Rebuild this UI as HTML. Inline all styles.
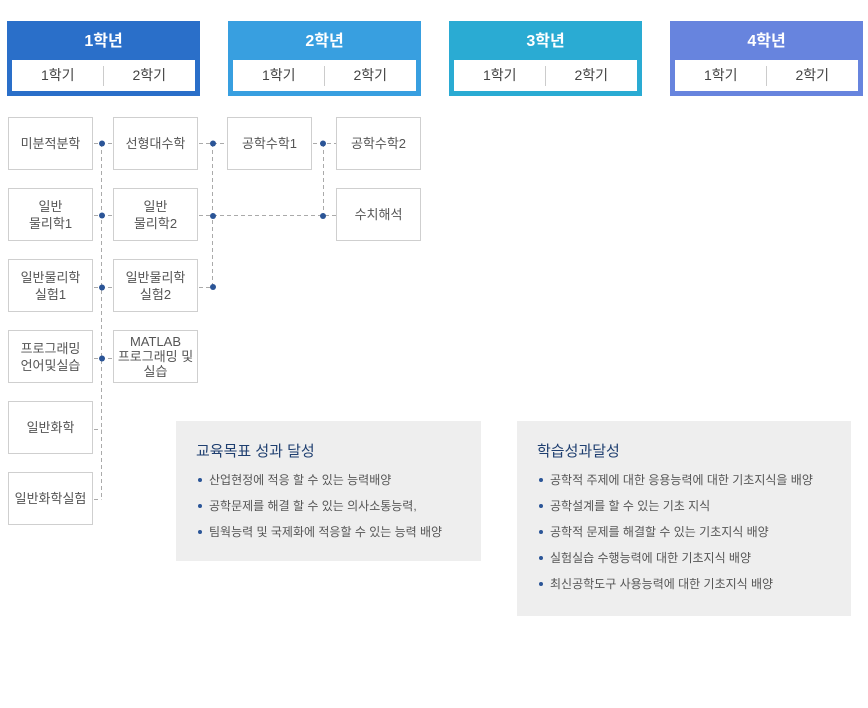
<!DOCTYPE html>
<html><head><meta charset="utf-8"><style>
body{margin:0;width:868px;height:708px;background:#fff;position:relative;overflow:hidden;font-family:"Liberation Sans","Noto Sans CJK KR",sans-serif}
.yr{position:absolute;top:21px;width:193px;height:75px;color:#fff}
.yr .t{position:absolute;top:0;left:0;width:100%;height:40px;line-height:42px;text-align:center;font-size:16px;font-weight:bold}
.yr .w{position:absolute;left:5px;top:39px;width:183px;height:31px;background:#fff;color:#444;font-size:14px}
.yr .w span{position:absolute;top:0;width:50%;line-height:31px;text-align:center}
.yr .w i{position:absolute;left:91px;top:6px;width:1px;height:20px;background:#ccc}
.c{position:absolute;width:83px;height:51px;border:1px solid #cfcfcf;display:flex;align-items:center;justify-content:center;text-align:center;font-size:13px;line-height:17px;color:#555;background:#fff}
.box{position:absolute;background:#eeeeee}
.box h3{margin:0;position:absolute;left:20px;top:19px;font-size:15px;font-weight:normal;color:#1f3f70}
.box ul{margin:0;padding:0;list-style:none;position:absolute;left:20px;top:50px}
.box li{font-size:12px;color:#555;height:26px;line-height:18px;padding-left:13px;position:relative}
.box li:before{content:"";position:absolute;left:2px;top:7px;width:4px;height:4px;border-radius:2px;background:#2b5597}
svg{position:absolute;left:0;top:0}
</style></head><body>
<div class="yr" style="left:7px;background:#2a6fc9"><div class="t">1학년</div><div class="w"><span style="left:0">1학기</span><i></i><span style="left:50%">2학기</span></div></div>
<div class="yr" style="left:228px;background:#389fe0"><div class="t">2학년</div><div class="w"><span style="left:0">1학기</span><i></i><span style="left:50%">2학기</span></div></div>
<div class="yr" style="left:449px;background:#2aabd3"><div class="t">3학년</div><div class="w"><span style="left:0">1학기</span><i></i><span style="left:50%">2학기</span></div></div>
<div class="yr" style="left:670px;background:#6784de"><div class="t">4학년</div><div class="w"><span style="left:0">1학기</span><i></i><span style="left:50%">2학기</span></div></div>

<svg width="868" height="708">
<g stroke="#aaa" stroke-width="1" stroke-dasharray="4,3" fill="none">
<line x1="94" y1="143.5" x2="113" y2="143.5"/>
<line x1="94" y1="215.5" x2="113" y2="215.5"/>
<line x1="94" y1="287.5" x2="113" y2="287.5"/>
<line x1="94" y1="358.5" x2="113" y2="358.5"/>
<line x1="94" y1="429.5" x2="101.5" y2="429.5"/>
<line x1="94" y1="499.5" x2="101.5" y2="499.5"/>
<line x1="101.5" y1="143" x2="101.5" y2="500"/>
<line x1="199" y1="143.5" x2="227" y2="143.5"/>
<line x1="199" y1="215.5" x2="336" y2="215.5"/>
<line x1="199" y1="287.5" x2="212.5" y2="287.5"/>
<line x1="212.5" y1="143" x2="212.5" y2="287"/>
<line x1="313" y1="143.5" x2="336" y2="143.5"/>
<line x1="323.5" y1="143" x2="323.5" y2="215"/>
</g>
<g fill="#2b5597">
<circle cx="102" cy="143.5" r="3"/><circle cx="102" cy="215.5" r="3"/><circle cx="102" cy="287.5" r="3"/><circle cx="102" cy="358.5" r="3"/>
<circle cx="213" cy="143.5" r="3"/><circle cx="213" cy="216" r="3"/><circle cx="213" cy="287" r="3"/>
<circle cx="323" cy="143.5" r="3"/><circle cx="323" cy="216" r="3"/>
</g>
</svg>

<div class="c" style="left:8px;top:117px">미분적분학</div>
<div class="c" style="left:8px;top:188px">일반<br>물리학1</div>
<div class="c" style="left:8px;top:259px">일반물리학<br>실험1</div>
<div class="c" style="left:8px;top:330px">프로그래밍<br>언어및실습</div>
<div class="c" style="left:8px;top:401px">일반화학</div>
<div class="c" style="left:8px;top:472px">일반화학실험</div>
<div class="c" style="left:113px;top:117px">선형대수학</div>
<div class="c" style="left:113px;top:188px">일반<br>물리학2</div>
<div class="c" style="left:113px;top:259px">일반물리학<br>실험2</div>
<div class="c" style="left:113px;top:330px;line-height:15px">MATLAB<br>프로그래밍 및<br>실습</div>
<div class="c" style="left:227px;top:117px">공학수학1</div>
<div class="c" style="left:336px;top:117px">공학수학2</div>
<div class="c" style="left:336px;top:188px">수치해석</div>

<div class="box" style="left:176px;top:421px;width:305px;height:140px">
<h3>교육목표 성과 달성</h3>
<ul><li>산업현정에 적응 할 수 있는 능력배양</li><li>공학문제를 해결 할 수 있는 의사소통능력,</li><li>팀웍능력 및 국제화에 적응할 수 있는 능력 배양</li></ul>
</div>
<div class="box" style="left:517px;top:421px;width:334px;height:195px">
<h3>학습성과달성</h3>
<ul><li>공학적 주제에 대한 응용능력에 대한 기초지식을 배양</li><li>공학설계를 할 수 있는 기초 지식</li><li>공학적 문제를 해결할 수 있는 기초지식 배양</li><li>실험실습 수행능력에 대한 기초지식 배양</li><li>최신공학도구 사용능력에 대한 기초지식 배양</li></ul>
</div>
</body></html>
